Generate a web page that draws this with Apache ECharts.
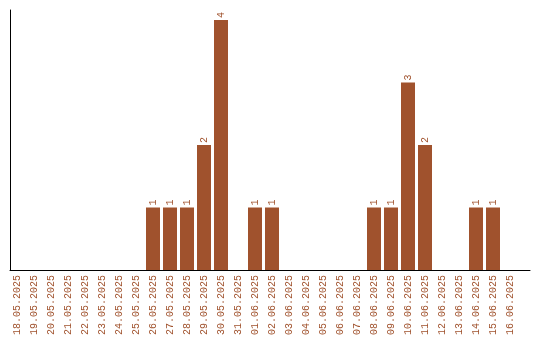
<!DOCTYPE html>
<html><head><meta charset="utf-8">
<script src="https://cdn.jsdelivr.net/npm/echarts@6/dist/echarts.min.js"></script>
<style>html,body{margin:0;padding:0;background:#fff}#c{width:540px;height:340px}</style>
</head><body><div id="c"></div>
<script>
const categories = ["18.05.2025","19.05.2025","20.05.2025","21.05.2025","22.05.2025","23.05.2025","24.05.2025","25.05.2025","26.05.2025","27.05.2025","28.05.2025","29.05.2025","30.05.2025","31.05.2025","01.06.2025","02.06.2025","03.06.2025","04.06.2025","05.06.2025","06.06.2025","07.06.2025","08.06.2025","09.06.2025","10.06.2025","11.06.2025","12.06.2025","13.06.2025","14.06.2025","15.06.2025","16.06.2025"];
const counts = [0,0,0,0,0,0,0,0,1,1,1,2,4,0,1,1,0,0,0,0,0,1,1,3,2,0,0,1,1,0];

const color = '#A0522D';
const font = 'Liberation Mono';
const chart = echarts.init(document.getElementById('c'), null, {renderer:'canvas'});
chart.setOption({
  animation: false,
  grid: [
    {left: 8.5, width: 510, top: 10, bottom: 70},
    {left: 10, right: 10, top: 10, bottom: 70}
  ],
  xAxis: [
    {type:'category', gridIndex:0, data: categories,
     axisLine:{show:false}, axisTick:{show:false},
     axisLabel:{rotate:90, interval:0, color: color, fontFamily: font, fontSize:10, margin:5}},
    {type:'value', gridIndex:1, min:0, max:1,
     axisLine:{show:true, lineStyle:{color:'#000', width:1}}, axisTick:{show:false},
     axisLabel:{show:false}, splitLine:{show:false}}
  ],
  yAxis: [
    {type:'value', gridIndex:0, min:0, max:4.16, show:false},
    {type:'value', gridIndex:1, min:0, max:1,
     axisLine:{show:true, lineStyle:{color:'#000', width:1}}, axisTick:{show:false},
     axisLabel:{show:false}, splitLine:{show:false}}
  ],
  series: [{
    type:'bar', xAxisIndex:0, yAxisIndex:0, data: counts, barWidth:14,
    itemStyle:{color: color},
    label:{show:true, position:'top', rotate:90, align:'left', verticalAlign:'middle', distance:2,
      color: color, fontFamily: font, fontSize:10,
      formatter: p => p.value ? String(p.value) : ''}
  }]
});
</script></body></html>
